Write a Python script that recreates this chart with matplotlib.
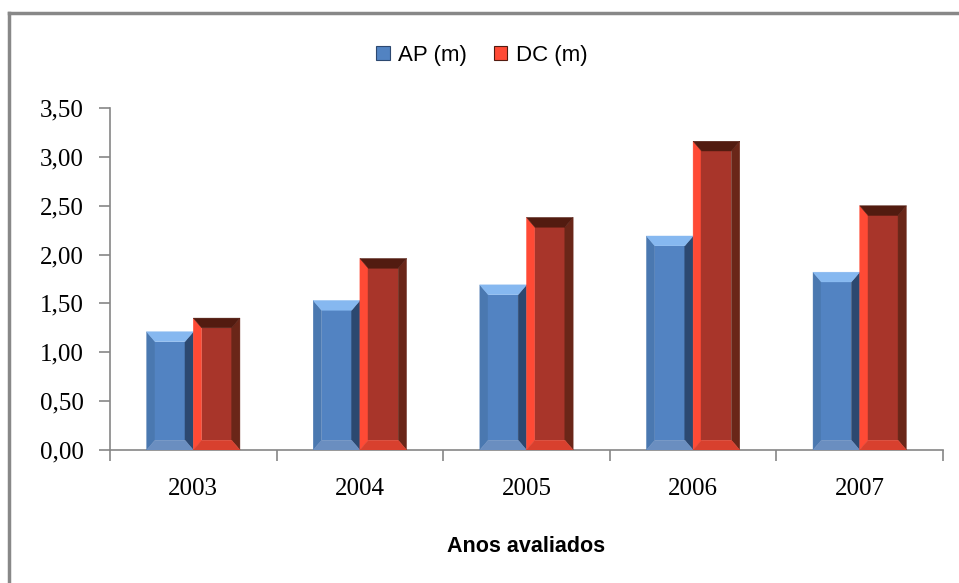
import numpy as np
import matplotlib.pyplot as plt
from matplotlib.patches import Patch
from matplotlib.lines import Line2D

#dados
anos = ['2003', '2004', '2005', '2006', '2007']
ap = [1.21, 1.53, 1.69, 2.19, 1.82]
dc = [1.35, 1.96, 2.38, 3.16, 2.50]
yticks = [0.0, 0.5, 1.0, 1.5, 2.0, 2.5, 3.0, 3.5]

# cores das faces: esquerda, centro, direita, topo, base
cores_ap = ['#4A78B0', '#5283C2', '#2C4870', '#86B8F0', '#6A8EC0']
cores_dc = ['#FF4A35', '#A8352A', '#6A2618', '#521B10', '#D8402E']


def barra_bisel(ax, x0, w, h, cores, dx=0.05, dy=0.1):
    x1 = x0 + w
    dy = min(dy, h / 2)
    faces = [
        [(x0, 0), (x0 + dx, dy), (x0 + dx, h - dy), (x0, h)],
        [(x0 + dx, dy), (x1 - dx, dy), (x1 - dx, h - dy), (x0 + dx, h - dy)],
        [(x1, 0), (x1 - dx, dy), (x1 - dx, h - dy), (x1, h)],
        [(x0, h), (x1, h), (x1 - dx, h - dy), (x0 + dx, h - dy)],
        [(x0, 0), (x1, 0), (x1 - dx, dy), (x0 + dx, dy)],
    ]
    for f, c in zip(faces, cores):
        xs, ys = zip(*f)
        ax.fill(xs, ys, color=c, lw=0.3, ec=c, zorder=3)


fig = plt.figure(figsize=(9.59, 5.83), dpi=100)
ax = fig.add_axes([110 / 959, 1 - 450 / 583, 833 / 959, 342 / 583])

w = 0.28
x = np.arange(len(anos))
for i in range(len(anos)):
    barra_bisel(ax, x[i] - w, w, ap[i], cores_ap)
    barra_bisel(ax, x[i], w, dc[i], cores_dc)

ax.set_xlim(-0.5, len(anos) - 0.5)
ax.set_ylim(0, 3.5)
ax.set_yticks(yticks)
ax.set_yticklabels([('%.2f' % v).replace('.', ',') for v in yticks],
                   fontfamily='Liberation Serif', fontsize=18)
ax.set_xticks(np.arange(len(anos) + 1) - 0.5)
ax.set_xticklabels([])
ax.set_xticks(x, minor=True)
ax.set_xticklabels(anos, minor=True, fontfamily='Liberation Serif', fontsize=18)
ax.tick_params(axis='y', length=8, width=1.2, color='#868686', pad=11)
ax.tick_params(axis='x', which='major', length=8, width=1.2, color='#868686')
ax.tick_params(axis='x', which='minor', length=0, pad=20)

for s in ['top', 'right']:
    ax.spines[s].set_visible(False)
for s in ['left', 'bottom']:
    ax.spines[s].set_color('#868686')
    ax.spines[s].set_linewidth(1.2)

ax.set_xlabel('Anos avaliados', fontfamily='Liberation Sans', fontweight='bold',
              fontsize=15.5, labelpad=26)

handles = [Patch(facecolor=cores_ap[1], edgecolor=cores_ap[2], lw=0.8),
           Patch(facecolor=cores_dc[0], edgecolor=cores_dc[3], lw=0.8)]
fig.legend(handles, ['AP (m)', 'DC (m)'], loc='center', bbox_to_anchor=(482 / 959, 1 - 55 / 583),
           ncol=2, frameon=False, prop={'family': 'Liberation Sans', 'size': 16},
           handlelength=0.6, handleheight=0.6, handletextpad=0.4, columnspacing=1.2)

# moldura externa
fig.add_artist(Line2D([9 / 959, 9 / 959], [0, 1 - 13 / 583], transform=fig.transFigure,
                      color='#888888', lw=2.5))
fig.add_artist(Line2D([9 / 959, 1], [1 - 13 / 583, 1 - 13 / 583], transform=fig.transFigure,
                      color='#888888', lw=2.5))

fig.savefig('out.png', dpi=100)
